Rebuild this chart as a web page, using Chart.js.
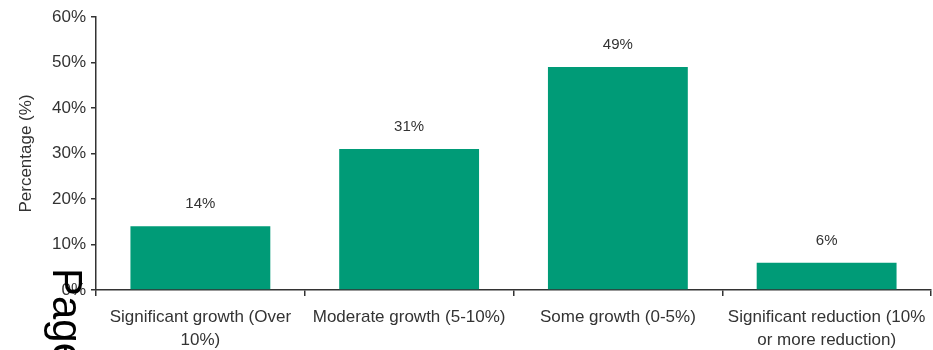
<!DOCTYPE html>
<html>
<head>
<meta charset="utf-8">
<script src="https://cdn.jsdelivr.net/npm/chart.js@4"></script>
<style>
  html, body { margin: 0; padding: 0; background: #fff; }
  #wrap { width: 933px; height: 350px; position: relative; }
</style>
</head>
<body>
<div id="wrap"><canvas id="ctx" width="933" height="350"></canvas></div>
<script>
"use strict";

const categories = [
  ["Significant growth (Over", "10%)"],
  ["Moderate growth (5-10%)"],
  ["Some growth (0-5%)"],
  ["Significant reduction (10%", "or more reduction)"]
];
const percentages = [14, 31, 49, 6];
const yTicks = [0, 10, 20, 30, 40, 50, 60];

const barColor = "rgb(0, 155, 119)";
const textColor = "#333333";
const axisColor = "#333333";

// values above each bar
const valueLabels = {
  id: "valueLabels",
  afterDatasetsDraw(chart) {
    const ctx = chart.ctx;
    const meta = chart.getDatasetMeta(0);
    ctx.save();
    ctx.font = "15px 'Liberation Sans', Arial, sans-serif";
    ctx.fillStyle = textColor;
    ctx.textAlign = "center";
    ctx.textBaseline = "middle";
    meta.data.forEach((bar, i) => {
      ctx.fillText(percentages[i] + "%", bar.x, bar.y - 22);
    });
    ctx.restore();
  }
};

// stray page footer text, rotated, bottom left
const pageMark = {
  id: "pageMark",
  afterDraw(chart) {
    const ctx = chart.ctx;
    ctx.save();
    ctx.translate(53, 268);
    ctx.rotate(Math.PI / 2);
    ctx.font = "42px 'Liberation Sans', Arial, sans-serif";
    ctx.fillStyle = "#000";
    ctx.textAlign = "left";
    ctx.textBaseline = "alphabetic";
    ctx.fillText("Page", 0, 0);
    ctx.restore();
  }
};

const data = {
  type: "bar",
  data: {
    labels: categories,
    datasets: [
      {
        data: percentages,
        backgroundColor: barColor,
        borderWidth: 0,
        categoryPercentage: 1,
        barPercentage: 0.67
      }
    ]
  },
  options: {
    responsive: false,
    animation: false,
    layout: {
      padding: { top: 17, right: 2, left: 0, bottom: 0 }
    },
    plugins: {
      legend: { display: false },
      tooltip: { enabled: false }
    },
    scales: {
      x: {
        offset: true,
        afterFit(scale) {
          scale.height = 60;
          scale.paddingLeft = 0;
          scale.paddingRight = 0;
        },
        grid: {
          offset: true,
          drawOnChartArea: false,
          drawTicks: true,
          tickLength: 6,
          color: axisColor,
          lineWidth: 1.5
        },
        border: { color: axisColor, width: 1.5 },
        ticks: {
          color: textColor,
          font: { family: "'Liberation Sans', Arial, sans-serif", size: 17, lineHeight: 1.35 },
          padding: 10,
          maxRotation: 0,
          autoSkip: false
        }
      },
      y: {
        min: 0,
        max: 60,
        afterFit(scale) { scale.width = 96; },
        afterBuildTicks(scale) {
          scale.ticks = yTicks.map((v) => ({ value: v }));
        },
        grid: {
          drawOnChartArea: false,
          drawTicks: true,
          tickLength: 5,
          color: axisColor,
          lineWidth: 1.5
        },
        border: { color: axisColor, width: 1.5 },
        ticks: {
          color: textColor,
          font: { family: "'Liberation Sans', Arial, sans-serif", size: 17 },
          padding: 5,
          callback: (v) => v + "%"
        },
        title: {
          display: true,
          text: "Percentage (%)",
          color: textColor,
          font: { family: "'Liberation Sans', Arial, sans-serif", size: 17 },
          padding: { top: 16, bottom: 0 }
        }
      }
    }
  },
  plugins: [valueLabels, pageMark]
};

const myChart = new Chart(document.getElementById("ctx").getContext("2d"), data);
</script>
</body>
</html>
